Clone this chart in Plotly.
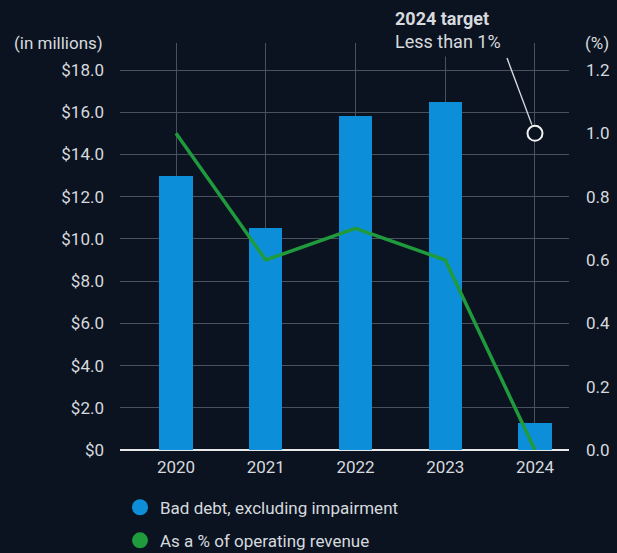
import plotly.graph_objects as go

# Data
years = ["2020", "2021", "2022", "2023", "2024"]
bad_debt = [13.0, 10.5, 15.8, 16.5, 1.3]          # $ millions
pct_revenue = [1.0, 0.6, 0.7, 0.6, 0.0]          # % of operating revenue
target_year = ["2024"]
target_pct = [1.0]

left_ticks = [0, 2, 4, 6, 8, 10, 12, 14, 16, 18]
left_labels = ["$0"] + [f"${v:.1f}" for v in left_ticks[1:]]
right_ticks = [0.0, 0.2, 0.4, 0.6, 0.8, 1.0, 1.2]

BG = "#0b1320"
TXT = "#d6dadf"
GRID = "#48515d"
BLUE = "#0c8fd8"
GREEN = "#1f9a3c"
FONT = "Roboto"

fig = go.Figure()

fig.add_trace(go.Bar(
    x=years, y=bad_debt, marker=dict(color=BLUE, line=dict(width=0)),
    width=0.37, showlegend=False, yaxis="y"))

fig.add_trace(go.Scatter(
    x=years, y=pct_revenue, mode="lines", line=dict(color=GREEN, width=3.5),
    showlegend=False, yaxis="y2"))

fig.add_trace(go.Scatter(
    x=target_year, y=target_pct, mode="markers",
    marker=dict(size=15, color=BG, line=dict(color="#f2f2f2", width=2)),
    showlegend=False, yaxis="y2"))

# Legend entries shown as filled circles
fig.add_trace(go.Scatter(
    x=[None], y=[None], mode="markers", name="Bad debt, excluding impairment",
    marker=dict(size=16, color=BLUE), legendgroup="a"))
fig.add_trace(go.Scatter(
    x=[None], y=[None], mode="markers", name="As a % of operating revenue",
    marker=dict(size=16, color=GREEN), legendgroup="b"))

ymax_left = 18 * 407 / 380
ymax_right = 1.2 * 407 / 380

fig.update_layout(
    width=617, height=553,
    margin=dict(l=120, r=48, t=43, b=103, autoexpand=False),
    paper_bgcolor=BG, plot_bgcolor=BG,
    font=dict(family=FONT, size=17, color=TXT),
    bargap=0,
    xaxis=dict(
        type="category", range=[-0.624, 4.379],
        showgrid=True, gridcolor=GRID, gridwidth=1,
        showline=False, zeroline=False, ticks="", ticklabelstandoff=5,
        tickfont=dict(size=17, color=TXT),
    ),
    yaxis=dict(
        range=[0, ymax_left], tickvals=left_ticks, ticktext=left_labels,
        showgrid=True, gridcolor=GRID, gridwidth=1,
        zeroline=True, zerolinecolor="#e8e8e8", zerolinewidth=2,
        showline=False, ticks="", ticklabelstandoff=15,
        tickfont=dict(size=17, color=TXT),
    ),
    yaxis2=dict(
        range=[0, ymax_right], tickvals=right_ticks, tickformat=".1f",
        overlaying="y", side="right", showgrid=False, zeroline=False,
        showline=False, ticks="", ticklabelstandoff=16,
        tickfont=dict(size=17, color=TXT),
    ),
    legend=dict(
        x=0.0, xanchor="left", y=-0.0976, yanchor="top",
        orientation="v", bgcolor="rgba(0,0,0,0)",
        font=dict(size=17, color=TXT), itemsizing="trace",
        tracegroupgap=8,
    ),
    showlegend=True,
)

# Axis unit labels
fig.add_annotation(text="(in millions)", xref="paper", yref="paper",
                   x=-0.0334, y=1.0, xanchor="right", yanchor="middle",
                   showarrow=False, font=dict(size=17, color=TXT))
fig.add_annotation(text="(%)", xref="paper", yref="paper",
                   x=1.031, y=1.0, xanchor="left", yanchor="middle",
                   showarrow=False, font=dict(size=17, color=TXT))

# Target callout text
fig.add_annotation(text="<b>2024 target</b><br>Less than 1%",
                   xref="paper", yref="paper", x=0.601, y=1.032,
                   xanchor="left", yanchor="middle", align="left",
                   showarrow=False, bgcolor=BG, borderpad=4,
                   font=dict(size=18, color=TXT))

# Leader line from the callout down to the target marker
fig.add_shape(type="line", xref="x", yref="y2",
              x0=3.688, y0=1.238, x1=3.965, y1=1.0275,
              line=dict(color=TXT, width=1.4))

fig.write_html("out.html")
